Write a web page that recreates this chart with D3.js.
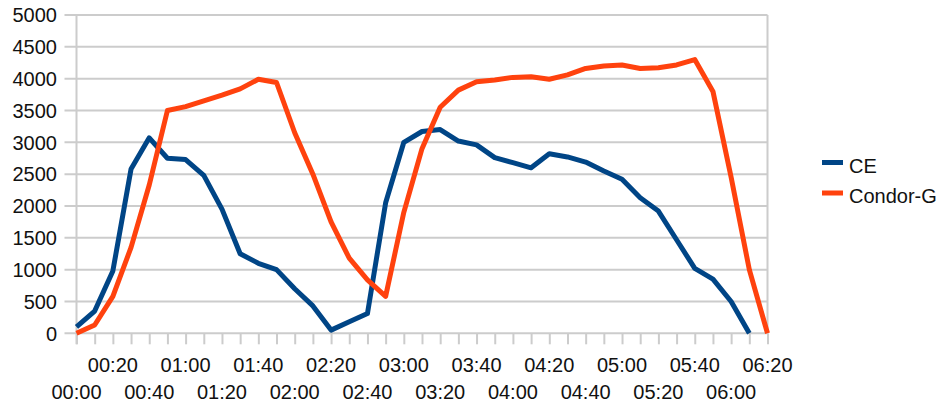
<!DOCTYPE html>
<html>
<head>
<meta charset="utf-8">
<script src="https://cdn.jsdelivr.net/npm/d3@7"></script>
<style>
  html, body { margin: 0; padding: 0; background: #ffffff; }
  svg { display: block; }
  text { font-family: "Liberation Sans", Arial, sans-serif; fill: #111; }
</style>
</head>
<body>
<svg id="chart" width="943" height="403"></svg>
<script>
// Category labels (every 10 minutes from 00:00 to 06:20)
const times = ["00:00","00:10","00:20","00:30","00:40","00:50","01:00","01:10","01:20","01:30",
  "01:40","01:50","02:00","02:10","02:20","02:30","02:40","02:50","03:00","03:10",
  "03:20","03:30","03:40","03:50","04:00","04:10","04:20","04:30","04:40","04:50",
  "05:00","05:10","05:20","05:30","05:40","05:50","06:00","06:10","06:20"];

const ceValues = [100, 350, 980, 2580, 3070, 2750, 2730, 2480, 1950, 1250,
  1100, 1000, 700, 430, 50, 180, 310, 2050, 3000, 3170,
  3200, 3020, 2960, 2760, 2680, 2600, 2820, 2770, 2690, 2550,
  2420, 2130, 1920, 1470, 1020, 850, 500, 0];

const condorValues = [0, 130, 580, 1350, 2330, 3500, 3560, 3650, 3740, 3840,
  3990, 3940, 3150, 2500, 1750, 1180, 840, 580, 1900, 2900,
  3550, 3820, 3950, 3980, 4020, 4030, 3990, 4060, 4160, 4200,
  4215, 4160, 4170, 4215, 4300, 3800, 2450, 1000, 0];

const yTicks = [0, 500, 1000, 1500, 2000, 2500, 3000, 3500, 4000, 4500, 5000];
const xLabelsRow1 = ["00:20","01:00","01:40","02:20","03:00","03:40","04:20","05:00","05:40","06:20"];
const xLabelsRow2 = ["00:00","00:40","01:20","02:00","02:40","03:20","04:00","04:40","05:20","06:00"];

const seriesNames = ["CE", "Condor-G"];
const seriesColors = ["#004586", "#ff420e"];

(function () {
const svg = d3.select("#chart");
const pLeft = 76.5, pRight = 767.5, pTop = 15, pBottom = 333.3;
const fs = 20;

const x = d3.scalePoint().domain(times).range([pLeft, pRight]);
const y = d3.scaleLinear().domain([0, 5000]).range([pBottom, pTop]);

const grid = "#cccccc";

// horizontal gridlines (extend left as outer tick marks)
svg.append("g").selectAll("line").data(yTicks).join("line")
  .attr("x1", pLeft - 12).attr("x2", pRight)
  .attr("y1", d => y(d)).attr("y2", d => y(d))
  .attr("stroke", grid).attr("stroke-width", 2);

// right border
svg.append("line").attr("x1", pRight).attr("x2", pRight).attr("y1", pTop).attr("y2", pBottom)
  .attr("stroke", grid).attr("stroke-width", 2);

// x axis with ticks
const xAxis = d3.axisBottom(x).tickSize(11).tickFormat("");
const gx = svg.append("g").attr("transform", `translate(0,${pBottom})`).call(xAxis);
gx.select(".domain").remove();
gx.selectAll(".tick line").attr("stroke", grid).attr("stroke-width", 2);

// left axis line
svg.append("line").attr("x1", pLeft).attr("x2", pLeft).attr("y1", pTop).attr("y2", pBottom + 11)
  .attr("stroke", grid).attr("stroke-width", 2);

// y labels
svg.append("g").selectAll("text").data(yTicks).join("text")
  .attr("x", 57).attr("y", d => y(d)).attr("dy", "0.36em")
  .attr("text-anchor", "end").attr("font-size", fs)
  .text(d => d);

// x labels, two rows
svg.append("g").selectAll("text").data(xLabelsRow1).join("text")
  .attr("x", d => x(d)).attr("y", 372)
  .attr("text-anchor", "middle").attr("font-size", fs)
  .text(d => d);
svg.append("g").selectAll("text").data(xLabelsRow2).join("text")
  .attr("x", d => x(d)).attr("y", 399)
  .attr("text-anchor", "middle").attr("font-size", fs)
  .text(d => d);

// lines
const line = d3.line().x((d, i) => x(times[i])).y(d => y(d));
[ceValues, condorValues].forEach((vals, k) => {
  svg.append("path").datum(vals)
    .attr("d", line)
    .attr("fill", "none")
    .attr("stroke", seriesColors[k])
    .attr("stroke-width", 5)
    .attr("stroke-linejoin", "round")
    .attr("stroke-linecap", "butt");
});

// legend
const legend = svg.append("g");
seriesNames.forEach((name, k) => {
  const ly = 162.5 + k * 30.5;
  legend.append("rect").attr("x", 822).attr("y", ly - 2.5).attr("width", 21).attr("height", 5)
    .attr("fill", seriesColors[k]);
  legend.append("text").attr("x", 849).attr("y", ly + 10)
    .attr("font-size", fs).text(name);
});
})();
</script>
</body>
</html>
